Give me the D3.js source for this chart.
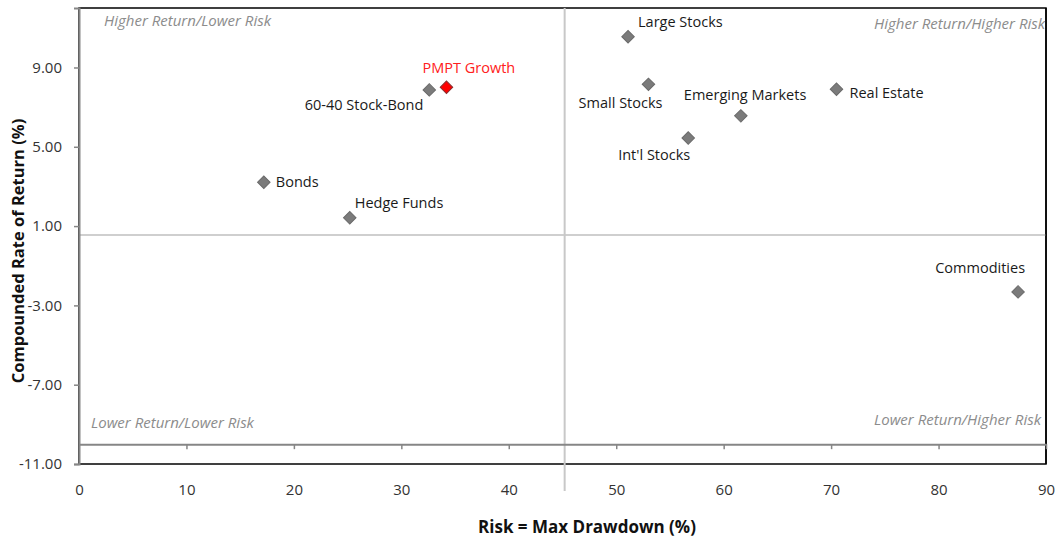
<!DOCTYPE html>
<html lang="en">
<head>
    <meta charset="UTF-8">
    <script src="https://d3js.org/d3.v7.min.js"></script>
    <title>Risk vs Return</title>
    <style>
        body { margin: 0; background: #fff; }
        svg { font-family: "Open Sans", sans-serif; }
    </style>
</head>
<body>
    <script>
        var width = 1058,
            height = 541;

        // data
        var assets = ["Large Stocks", "PMPT Growth", "60-40 Stock-Bond", "Small Stocks", "Emerging Markets",
            "Real Estate", "Int'l Stocks", "Bonds", "Hedge Funds", "Commodities"];
        var risk = [51.1, 34.2, 32.6, 53.0, 61.6, 70.5, 56.7, 17.2, 25.2, 87.4];
        var ret = [10.55, 8.0, 7.87, 8.15, 6.56, 7.9, 5.44, 3.21, 1.42, -2.32];
        var yTicks = [9, 5, 1, -3, -7, -11];
        var xTicks = [0, 10, 20, 30, 40, 50, 60, 70, 80, 90];
        var riskSplit = 45.2,
            returnSplit = 0.55;

        // label placement relative to each marker [dx, dy, anchor]
        var labelPos = {
            "Large Stocks": [10, -10, "start"],
            "PMPT Growth": [-24, -14, "start"],
            "60-40 Stock-Bond": [-6, 20, "end"],
            "Small Stocks": [14, 24, "end"],
            "Emerging Markets": [-57, -16, "start"],
            "Real Estate": [13, 9, "start"],
            "Int'l Stocks": [2, 22, "end"],
            "Bonds": [12, 5, "start"],
            "Hedge Funds": [5, -10, "start"],
            "Commodities": [7, -19, "end"]
        };

        var svg = d3.select("body").append("svg")
            .attr("width", width)
            .attr("height", height);

        var x = d3.scaleLinear().domain([0, 90]).range([79, 1046]);
        var y = d3.scaleLinear().domain([-11, 12]).range([464, 8]);

        // plot frame
        svg.append("rect")
            .attr("x", x(0)).attr("y", y(12))
            .attr("width", x(90) - x(0)).attr("height", y(-11) - y(12))
            .attr("fill", "none").attr("stroke", "#000").attr("stroke-width", 1.5);

        // quadrant lines
        svg.append("line")
            .attr("x1", x(0)).attr("x2", x(90))
            .attr("y1", y(returnSplit)).attr("y2", y(returnSplit))
            .attr("stroke", "#cfcfcf").attr("stroke-width", 2);
        svg.append("line")
            .attr("x1", x(riskSplit)).attr("x2", x(riskSplit))
            .attr("y1", y(12)).attr("y2", y(-11) + 27)
            .attr("stroke", "#c8c8c8").attr("stroke-width", 2);

        // quadrant captions
        var quad = [
            ["Higher Return/Lower Risk", 104, 26],
            ["Higher Return/Higher Risk", 874, 29],
            ["Lower Return/Lower Risk", 91, 428],
            ["Lower Return/Higher Risk", 874, 425]
        ];
        svg.selectAll(".quad").data(quad).enter().append("text")
            .attr("class", "quad")
            .attr("x", function (d) { return d[1]; })
            .attr("y", function (d) { return d[2]; })
            .attr("font-size", 15).attr("font-style", "italic")
            .attr("fill", "#8c8c8c")
            .text(function (d) { return d[0]; });

        // redraw right border so it sits over the clipped caption
        svg.append("line")
            .attr("x1", x(90)).attr("x2", x(90)).attr("y1", y(12)).attr("y2", y(-11))
            .attr("stroke", "#000").attr("stroke-width", 1.5);

        // y axis
        var yAxis = d3.axisLeft(y).tickValues(yTicks).tickSize(5).tickPadding(12)
            .tickFormat(function (d) { return d.toFixed(2); });
        var gy = svg.append("g")
            .attr("transform", "translate(" + x(0) + ",0)")
            .call(yAxis);
        gy.select(".domain").attr("stroke", "#868686").attr("stroke-width", 2);
        gy.selectAll(".tick line").attr("stroke", "#868686").attr("stroke-width", 1.5);
        gy.selectAll(".tick text").attr("font-size", 15).attr("fill", "#333")
            .attr("font-family", "Open Sans, sans-serif");

        // x axis crosses at -10, labels sit below the frame
        var xAxis = d3.axisBottom(x).tickValues(xTicks).tickSize(5).tickPadding(35).tickSizeOuter(0);
        var gx = svg.append("g")
            .attr("transform", "translate(0," + y(-10) + ")")
            .call(xAxis);
        gx.select(".domain").attr("stroke", "#868686").attr("stroke-width", 2);
        gx.selectAll(".tick line").attr("stroke", "#868686").attr("stroke-width", 1.5);
        gx.selectAll(".tick text").attr("font-size", 15).attr("fill", "#333")
            .attr("font-family", "Open Sans, sans-serif");
        gx.selectAll(".tick").filter(function (d) { return d === 0; }).select("line").remove();

        // axis titles
        svg.append("text")
            .attr("x", 587).attr("y", 533)
            .attr("text-anchor", "middle")
            .attr("font-size", 17).attr("font-weight", "bold").attr("fill", "#111")
            .text("Risk = Max Drawdown (%)");
        svg.append("text")
            .attr("transform", "translate(24,251) rotate(-90)")
            .attr("text-anchor", "middle")
            .attr("font-size", 16.5).attr("font-weight", "bold").attr("fill", "#111")
            .text("Compounded Rate of Return (%)");

        // markers
        var diamond = d3.symbol().type(d3.symbolSquare).size(78);
        var pts = svg.append("g").selectAll("g").data(assets).enter().append("g")
            .attr("transform", function (d, i) { return "translate(" + x(risk[i]) + "," + y(ret[i]) + ")"; });
        pts.append("path")
            .attr("d", diamond)
            .attr("transform", "rotate(45)")
            .attr("fill", function (d) { return d === "PMPT Growth" ? "#ff0000" : "#7b7b7b"; })
            .attr("stroke", function (d) { return d === "PMPT Growth" ? "#8a3030" : "#6a6a6a"; })
            .attr("stroke-width", 1);
        pts.append("text")
            .attr("x", function (d) { return labelPos[d][0]; })
            .attr("y", function (d) { return labelPos[d][1]; })
            .attr("text-anchor", function (d) { return labelPos[d][2]; })
            .attr("font-size", 14.5)
            .attr("fill", function (d) { return d === "PMPT Growth" ? "#ff2020" : "#1a1a1a"; })
            .text(function (d) { return d; });
    </script>
</body>
</html>
